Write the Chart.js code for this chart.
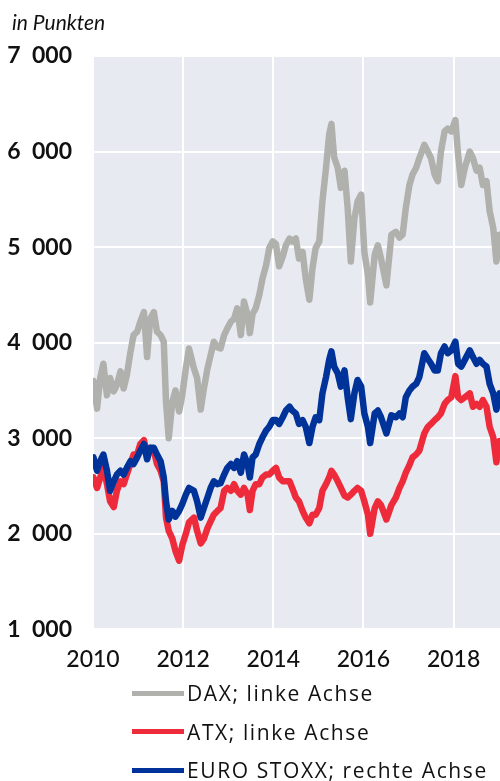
<!DOCTYPE html>
<html>
<head>
<meta charset="utf-8">
<script src="https://cdn.jsdelivr.net/npm/chart.js@4.4.1/dist/chart.umd.min.js"></script>
<style>
  body { margin: 0; background: #fff; font-family: Lato, sans-serif; color: #111; overflow: hidden; }
  #unit { position: absolute; left: 12px; top: 9px; font-style: italic; font-size: 21px; }
  #wrap { position: absolute; left: 0; top: 0; width: 500px; height: 689px; }
  #legend { position: absolute; left: 132px; top: 674px; font-family: "Open Sans", sans-serif; }
  .item { display: flex; align-items: center; height: 38.5px; font-size: 21px; letter-spacing: 1.6px; white-space: nowrap; }
  .item .line { width: 52px; height: 5px; margin-right: 3px; }
</style>
</head>
<body>
<div id="wrap"><canvas id="chart" width="500" height="689"></canvas></div>
<div id="unit">in Punkten</div>
<div id="legend"></div>
<script>
// decimal years
const dates = [
  2010.01, 2010.09, 2010.16, 2010.23, 2010.31, 2010.38, 2010.46, 2010.53, 2010.61, 2010.68,
  2010.75, 2010.83, 2010.90, 2010.98, 2011.05, 2011.13, 2011.20, 2011.27, 2011.35, 2011.42,
  2011.50, 2011.57, 2011.62, 2011.68, 2011.76, 2011.83, 2011.91, 2011.98, 2012.06, 2012.13,
  2012.24, 2012.31, 2012.39, 2012.46, 2012.54, 2012.61, 2012.68, 2012.76, 2012.83, 2012.91,
  2012.98, 2013.06, 2013.13, 2013.20, 2013.28, 2013.35, 2013.43, 2013.48, 2013.54, 2013.61,
  2013.69, 2013.76, 2013.84, 2013.91, 2013.99, 2014.06, 2014.13, 2014.21, 2014.28, 2014.36,
  2014.42, 2014.50, 2014.57, 2014.65, 2014.72, 2014.80, 2014.87, 2014.94, 2015.02, 2015.09,
  2015.17, 2015.24, 2015.29, 2015.35, 2015.43, 2015.50, 2015.58, 2015.65, 2015.72, 2015.80,
  2015.87, 2015.95, 2016.02, 2016.10, 2016.15, 2016.25, 2016.32, 2016.39, 2016.51, 2016.62,
  2016.72, 2016.80, 2016.87, 2016.94, 2017.02, 2017.09, 2017.17, 2017.24, 2017.35, 2017.43,
  2017.50, 2017.58, 2017.65, 2017.72, 2017.80, 2017.87, 2017.95, 2018.04, 2018.10, 2018.17,
  2018.25, 2018.36, 2018.43, 2018.51, 2018.58, 2018.65, 2018.73, 2018.80, 2018.88, 2018.95,
  2019.02,
];

// left axis
const dax = [
  3600, 3310, 3630, 3780, 3450, 3630, 3490, 3560, 3700, 3520,
  3660, 3900, 4080, 4115, 4220, 4320, 3850, 4250, 4320, 4115,
  4080, 4010, 3380, 3000, 3380, 3500, 3280, 3450, 3730, 3940,
  3730, 3630, 3300, 3520, 3730, 3870, 4010, 3950, 3940, 4080,
  4150, 4220, 4250, 4360, 4080, 4430, 4290, 4100, 4300, 4360,
  4500, 4670, 4810, 4990, 5060, 5030, 4800, 4900, 5020, 5090,
  5060, 5090, 4880, 4950, 4670, 4450, 4780, 4990, 5060, 5480,
  5830, 6180, 6290, 5940, 5830, 5620, 5800, 5410, 4850, 5300,
  5480, 5550, 4950, 4710, 4420, 4920, 5020, 4880, 4600, 5130,
  5160, 5100, 5130, 5410, 5650, 5760, 5830, 5930, 6070, 6000,
  5930, 5760, 5690, 6000, 6210, 6240, 6210, 6330, 5970, 5650,
  5830, 6000, 5930, 5800, 5830, 5650, 5690, 5380, 5200, 4850,
  5130,
];

// left axis
const atx = [
  2590, 2480, 2590, 2690, 2520, 2340, 2280, 2450, 2550, 2520,
  2620, 2730, 2830, 2830, 2940, 2980, 2830, 2900, 2870, 2730,
  2660, 2550, 2170, 2030, 1950, 1820, 1720, 1880, 2000, 2120,
  2170, 2030, 1900, 1950, 2060, 2130, 2200, 2240, 2270, 2450,
  2480, 2450, 2520, 2450, 2410, 2480, 2410, 2250, 2450, 2520,
  2520, 2590, 2620, 2620, 2660, 2690, 2590, 2550, 2550, 2550,
  2480, 2380, 2340, 2240, 2170, 2110, 2200, 2200, 2270, 2450,
  2520, 2590, 2660, 2620, 2550, 2480, 2400, 2380, 2410, 2450,
  2480, 2450, 2340, 2200, 2000, 2270, 2340, 2300, 2150, 2300,
  2380, 2480, 2550, 2640, 2720, 2800, 2830, 2870, 3050, 3120,
  3150, 3190, 3220, 3260, 3360, 3400, 3430, 3650, 3430, 3400,
  3430, 3470, 3330, 3360, 3330, 3400, 3330, 3120, 3010, 2750,
  2970,
];

// right axis (cut off in the picture)
const euro_stoxx = [
  280, 266, 276, 283, 266, 245, 255, 262, 266, 262,
  269, 276, 273, 280, 287, 294, 278, 290, 290, 283,
  276, 259, 234, 215, 224, 218, 224, 231, 241, 248,
  245, 234, 217, 227, 238, 248, 255, 252, 253, 262,
  269, 273, 269, 276, 264, 283, 273, 259, 280, 283,
  294, 301, 308, 312, 319, 319, 315, 322, 329, 333,
  329, 326, 315, 319, 312, 295, 312, 322, 319, 347,
  364, 382, 391, 375, 368, 354, 371, 343, 320, 347,
  361, 354, 326, 312, 295, 326, 329, 322, 305, 324,
  322, 326, 322, 343, 350, 354, 357, 364, 389, 383,
  378, 371, 371, 389, 396, 389, 392, 401, 378, 375,
  382, 392, 385, 378, 382, 378, 375, 357, 347, 330,
  347,
];

const x_ticks = [2010, 2012, 2014, 2016, 2018];

function points(values) {
  return values.map((val, i) => ({ x: dates[i], y: val }));
}

function thousands(v) {
  const s = String(v);
  return s.length > 3 ? s.slice(0, -3) + "\u2002" + s.slice(-3) : s;
}

const plot_bg = {
  id: "plot_bg",
  beforeDraw(chart) {
    const { ctx, chartArea: a } = chart;
    ctx.save();
    ctx.fillStyle = "#e8eaf2";
    ctx.fillRect(a.left, a.top, a.right - a.left, a.bottom - a.top);
    ctx.restore();
  },
};

const grid = { color: "#ffffff", lineWidth: 2, drawTicks: false };

const chart = new Chart(document.getElementById("chart"), {
  type: "line",
  data: {
    datasets: [
      { label: "DAX; linke Achse", data: points(dax), borderColor: "#b0b0ad", yAxisID: "y", order: 3 },
      { label: "ATX; linke Achse", data: points(atx), borderColor: "#ee2b3b", yAxisID: "y", order: 2 },
      { label: "EURO STOXX; rechte Achse", data: points(euro_stoxx), borderColor: "#003399", yAxisID: "y2", order: 1 },
    ],
  },
  options: {
    responsive: false,
    animation: false,
    datasets: {
      line: { borderWidth: 6.5, pointRadius: 0, tension: 0, borderJoinStyle: "round", borderCapStyle: "round" },
    },
    layout: { padding: { top: 56, left: 0, right: 0, bottom: 0 } },
    scales: {
      x: {
        type: "linear",
        min: 2010,
        max: 2019.03,
        afterBuildTicks: (axis) => {
          axis.ticks = x_ticks.map((v) => ({ value: v }));
        },
        ticks: {
          callback: (v) => String(v),
          font: { family: "Lato", size: 23, weight: "500" },
          color: "#111",
          padding: 16,
          maxRotation: 0,
          autoSkip: false,
        },
        grid: grid,
        border: { display: false },
      },
      y: {
        type: "linear",
        position: "left",
        min: 1000,
        max: 7000,
        afterFit: (axis) => {
          axis.width = 93;
        },
        ticks: {
          stepSize: 1000,
          callback: (v) => thousands(v),
          font: { family: "Lato", size: 23, weight: "bold" },
          color: "#111",
          padding: 21,
        },
        grid: grid,
        border: { display: false },
      },
      y2: {
        type: "linear",
        position: "right",
        display: false,
        min: 100,
        max: 700,
      },
    },
    plugins: {
      legend: { display: false },
      tooltip: { enabled: false },
    },
  },
  plugins: [plot_bg],
});

// legend: one entry per row, in the picture's order
const legend = document.getElementById("legend");
[...chart.data.datasets]
  .sort((a, b) => b.order - a.order)
  .forEach((ds) => {
    const row = document.createElement("div");
    row.className = "item";
    const line = document.createElement("span");
    line.className = "line";
    line.style.background = ds.borderColor;
    row.appendChild(line);
    row.appendChild(document.createTextNode(ds.label));
    legend.appendChild(row);
  });
</script>
</body>
</html>
